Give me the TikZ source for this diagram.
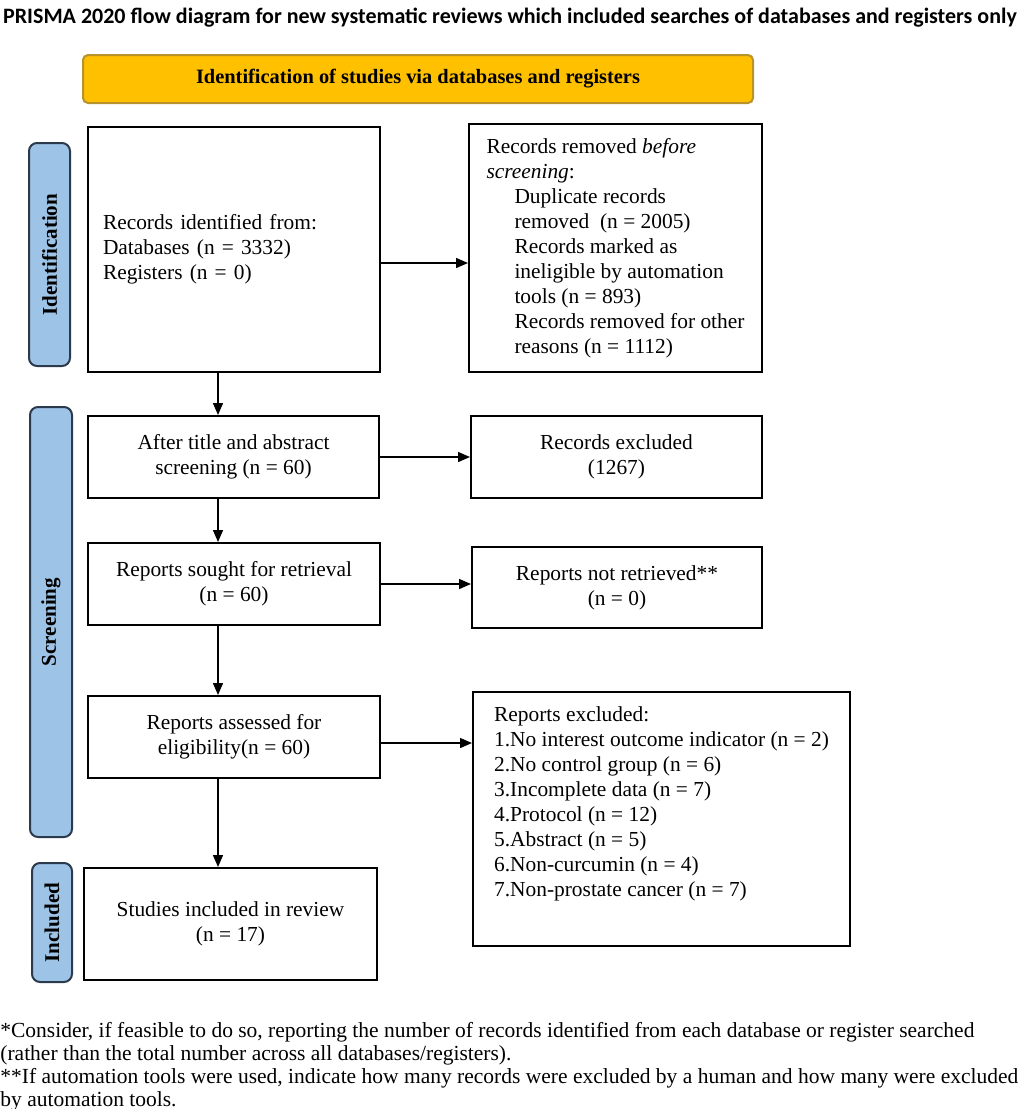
\documentclass[tikz,border=0pt]{standalone}
\usepackage{fontspec}
\setmainfont{Liberation Serif}
\newfontfamily\titlefont{Carlito}
\usetikzlibrary{positioning,arrows.meta}
\definecolor{bannergold}{HTML}{FFC000}
\definecolor{bannerrim}{HTML}{B8922A}
\definecolor{phaseblue}{HTML}{9DC3E6}
\definecolor{phaserim}{HTML}{2B3A4D}

\begin{document}
\begin{tikzpicture}[
    x=0.5pt, y=-0.5pt,
    flowbox/.style={rectangle, draw=black, line width=1pt, fill=white, align=center, inner sep=0pt, font=\fontsize{10.7}{12.5}\selectfont},
    listbox/.style={flowbox, align=left},
    phaselabel/.style={rectangle, rounded corners=4pt, draw=phaserim, line width=1pt, fill=phaseblue, rotate=90, inner sep=0pt, font=\bfseries\fontsize{10.5}{12.5}\selectfont},
    flowarrow/.style={-{Triangle[length=6pt,width=5pt]}, line width=0.7pt},
]
\useasboundingbox (0,0) rectangle (1024,1109);

% title and banner
\node (title) at (510,18) {\titlefont\bfseries\fontsize{11}{13}\selectfont PRISMA 2020 flow diagram for new systematic reviews which included searches of databases and registers only};
\node[rectangle, rounded corners=2.5pt, draw=bannerrim, line width=1pt, fill=bannergold, minimum width=335pt, minimum height=24pt, font=\bfseries\fontsize{10.2}{12}\selectfont] (banner) at (418,79) {Identification of studies via databases and registers};

% phase labels
\node[phaselabel, minimum width=111.5pt, minimum height=20.5pt] (identlabel) at (49.5,254.5) {Identification};
\node[phaselabel, minimum width=215pt, minimum height=21pt] (screenlabel) at (51,622) {Screening};
\node[phaselabel, minimum width=59.5pt, minimum height=20pt] (inclabel) at (52,922.5) {Included};

% left column
\node[listbox, inner xsep=7.5pt, text width=131pt, minimum height=122.5pt] (identified) at (234,249.5)
    {Records identified from:\\ Databases (n = 3332)\\ Registers (n = 0)};
\node[flowbox, minimum width=145.5pt, minimum height=41pt] (screened) at (233.5,457)
    {After title and abstract\\ screening (n = 60)};
\node[flowbox, minimum width=146pt, minimum height=41pt] (sought) at (234,584)
    {Reports sought for retrieval\\ (n = 60)};
\node[flowbox, minimum width=146pt, minimum height=41pt] (assessed) at (234,737)
    {Reports assessed for\\ eligibility(n = 60)};
\node[flowbox, minimum width=146.5pt, minimum height=56pt] (included) at (230.5,924)
    {Studies included in review\\ (n = 17)};

% right column
\node[listbox, minimum width=146.5pt, minimum height=124pt] (removed) at (615.5,248)
    {Records removed \textit{before}\\ \textit{screening}:\\
     \hspace*{14pt}Duplicate records\\ \hspace*{14pt}removed~ (n = 2005)\\
     \hspace*{14pt}Records marked as\\ \hspace*{14pt}ineligible by automation\\
     \hspace*{14pt}tools (n = 893)\\ \hspace*{14pt}Records removed for other\\
     \hspace*{14pt}reasons (n = 1112)};
\node[flowbox, minimum width=145.5pt, minimum height=41pt] (excluded) at (616.5,457)
    {Records excluded\\ (1267)};
\node[flowbox, minimum width=145pt, minimum height=40.5pt] (notretrieved) at (617,587.5)
    {Reports not retrieved**\\ (n = 0)};
\node[listbox, minimum width=188.5pt, minimum height=127pt] (reportsexcl) at (661.5,819)
    {Reports excluded:\\ 1.No interest outcome indicator (n = 2)\\ 2.No control group (n = 6)\\
     3.Incomplete data (n = 7)\\ 4.Protocol (n = 12)\\ 5.Abstract (n = 5)\\
     6.Non-curcumin (n = 4)\\ 7.Non-prostate cancer (n = 7)\\[4.5pt]\mbox{}};

% connectors
\coordinate (spine) at (218,0);
\draw[flowarrow] (identified.south -| spine) -- (screened.north -| spine);
\draw[flowarrow] (screened.south -| spine) -- (sought.north -| spine);
\draw[flowarrow] (sought.south -| spine) -- (assessed.north -| spine);
\draw[flowarrow] (assessed.south -| spine) -- (included.north -| spine);
\draw[flowarrow] ([yshift=-6.75pt]identified.east) -- ([yshift=-6.75pt]identified.east -| removed.west);
\draw[flowarrow] (screened.east) -- (screened.east -| excluded.west);
\draw[flowarrow] (sought.east) -- (sought.east -| notretrieved.west);
\draw[flowarrow] ([yshift=-3pt]assessed.east) -- ([yshift=-3pt]assessed.east -| reportsexcl.west);

% footnotes
\node[anchor=north west, inner sep=0pt, align=left, font=\fontsize{10.75}{11.5}\selectfont] (notes) at (0,1022)
    {*Consider, if feasible to do so, reporting the number of records identified from each database or register searched\\
     (rather than the total number across all databases/registers).\\
     **If automation tools were used, indicate how many records were excluded by a human and how many were excluded\\
     by automation tools.};
\end{tikzpicture}
\end{document}
